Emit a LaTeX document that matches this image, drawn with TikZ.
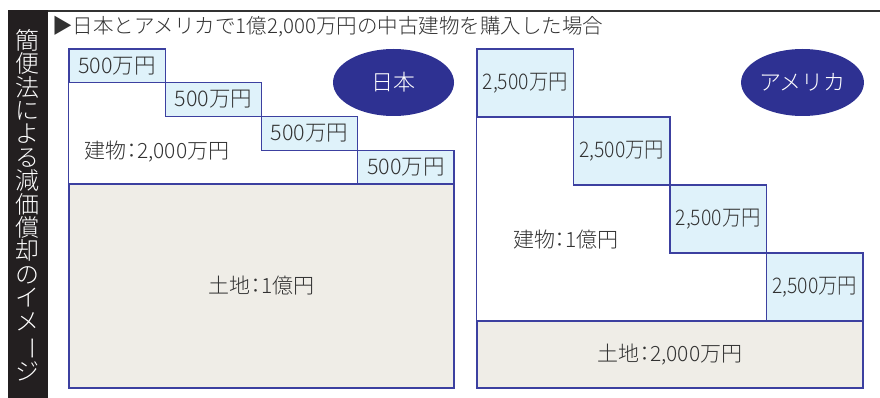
\documentclass[tikz,border=0pt]{standalone}
\usepackage{fontspec}
\setmainfont{Noto Sans CJK JP Light}
\newfontfamily\paltfont[RawFeature=+palt]{Noto Sans CJK JP Light}
\usetikzlibrary{shapes.geometric}
\definecolor{edge}{RGB}{60,64,160}
\definecolor{boxblue}{RGB}{223,242,250}
\definecolor{landbg}{RGB}{239,237,231}
\definecolor{navy}{RGB}{46,49,146}
\definecolor{txt}{RGB}{50,50,50}
\definecolor{band}{RGB}{35,31,32}
\newcommand{\pcolon}{{\paltfont ：}}
\begin{document}
\begin{tikzpicture}[x=1pt,y=-1pt,
  stepbox/.style={draw=edge, fill=boxblue, line width=1.2pt, inner sep=0pt, text=txt,
    font=\fontsize{21.5}{21.5}\selectfont},
  landbox/.style={draw=edge, fill=landbg, line width=1.2pt, inner sep=0pt, text=txt,
    font=\fontsize{21}{21}\selectfont},
  lbl/.style={inner sep=0pt, text=txt, font=\fontsize{21}{21}\selectfont},
  badge/.style={ellipse, fill=navy, text=white, inner sep=0pt,
    minimum width=121pt, minimum height=67pt, font=\fontsize{22}{22}\selectfont},
  edgeline/.style={draw=edge, line width=1.2pt}]
\useasboundingbox (0,0) rectangle (880,398);
\fill[white] (0,0) rectangle (880,398);
% side band
\fill[band] (8,10) rectangle (48,398);
\node[anchor=north, inner sep=0pt, text=white, align=center,
  font=\fontsize{24}{23.4}\selectfont] (vt) at (28,29)
  {簡\\便\\法\\に\\よ\\る\\減\\価\\償\\却\\の\\イ\\メ\\\rotatebox[origin=c]{-90}{ー}\\ジ};
% top rule and title
\draw[line width=1.2pt, draw=txt] (48,11) -- (880,11);
\node[anchor=west, inner sep=0pt, text=txt, font=\fontsize{20.5}{20.5}\selectfont] (title) at (52,27)
  {▶日本とアメリカで1億2,000万円の中古建物を購入した場合};
% ---------- Japan ----------
\node[landbox, minimum width=385pt, minimum height=204pt] (jland) at (261.5,286) {土地\pcolon 1億円};
\foreach \i in {1,2,3,4}{
  \node[stepbox, minimum width=96.25pt, minimum height=33.75pt] (j\i)
    at ({69+96.25*(\i-1)+48.125},{49+33.75*(\i-1)+16.875}) {500万円};
}
\draw[edgeline] (j1.south west) -- (jland.north west);
\node[lbl] (jbld) at (157,152) {建物\pcolon 2,000万円};
\node[badge] (jp) at (393.5,82.5) {日本};
% ---------- America ----------
\node[landbox, minimum width=386pt, minimum height=67pt] (aland) at (670,354.5) {土地\pcolon 2,000万円};
\foreach \i in {1,2,3,4}{
  \node[stepbox, minimum width=96.5pt, minimum height=68pt] (a\i)
    at ({477+96.5*(\i-1)+48.25},{49+68*(\i-1)+34}) {\scalebox{0.9}[1]{2,500万円}};
}
\draw[edgeline] (a1.south west) -- (aland.north west);
\node[lbl] (abld) at (566,240) {建物\pcolon 1億円};
\node[badge] (us) at (802.5,82.5) {アメリカ};
\end{tikzpicture}
\end{document}
